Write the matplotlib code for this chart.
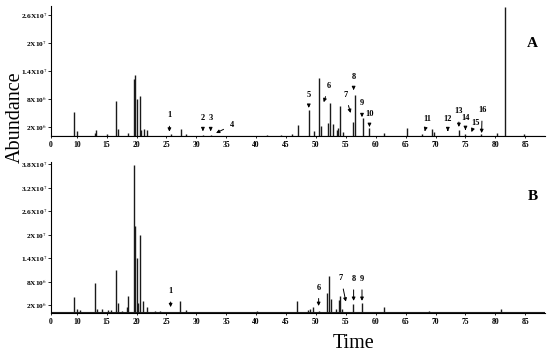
import matplotlib
matplotlib.use('Agg')
from matplotlib import pyplot as plt

plt.rcParams['font.family'] = ['Liberation Serif', 'DejaVu Serif']
plt.rcParams['mathtext.fontset'] = 'stix'

# retention time (min) and abundance (x1e6) of the peaks, chromatogram A
a_times = [9.5, 10.1, 13.0, 13.2, 15.0, 16.55, 16.9, 18.5, 19.5, 19.8, 20.05, 20.5, 20.7,
           21.2, 21.8, 25.8, 27.4, 28.3, 31.1, 32.4, 41.8, 44.2, 46.0, 46.95, 48.8, 49.6,
           50.55, 50.8, 52.0, 52.3, 52.8, 53.45, 53.7, 54.1, 54.5, 56.2, 56.45, 57.8, 58.9,
           61.4, 65.2, 67.8, 69.45, 69.7, 73.9, 75.0, 77.6, 80.3, 81.55, 84.8]
a_heights = [5.1, 1.1, 0.8, 1.3, 0.4, 7.6, 1.5, 0.6, 12.2, 13.1, 7.9, 8.7, 1.4,
             1.5, 1.3, 0.5, 1.55, 0.5, 0.3, 0.3, 0.3, 0.3, 0.5, 2.4, 5.6, 1.2,
             12.4, 2.1, 2.9, 7.1, 2.6, 1.35, 1.8, 6.5, 0.9, 3.1, 8.85, 3.85, 1.7,
             0.6, 1.7, 0.5, 1.5, 1.0, 1.35, 0.5, 0.4, 0.7, 27.6, 0.4]

# chromatogram B
b_times = [9.55, 10.1, 10.5, 13.0, 13.35, 14.2, 15.2, 15.7, 16.55, 16.95, 17.6, 18.4, 18.6,
           19.5, 19.8, 20.0, 20.2, 20.5, 21.05, 21.7, 23.05, 23.9, 27.3, 28.3, 40.2, 44.2,
           46.9, 48.6, 49.05, 49.5, 50.55, 51.8, 52.2, 52.6, 53.4, 53.8, 54.05, 54.3, 56.2,
           57.7, 61.3, 65.0, 68.9, 80.95]
b_heights = [4.0, 0.9, 0.8, 7.6, 1.1, 1.0, 0.8, 0.8, 11.1, 2.6, 0.4, 1.5, 4.4,
             37.8, 22.2, 14.0, 2.5, 19.9, 3.0, 1.6, 0.6, 0.4, 3.0, 0.7, 0.5, 0.3,
             3.1, 0.8, 1.1, 1.5, 0.5, 5.0, 9.45, 3.5, 1.0, 3.3, 4.4, 1.0, 2.3,
             2.5, 1.5, 0.3, 0.4, 1.1]

# numbered compounds: label, text position, arrow tip
a_labels = [('1', (25.5, 4.5), (25.5, 1.0)), ('2', (31.1, 3.9), (31.1, 1.1)),
            ('3', (32.4, 3.9), (32.4, 1.1)), ('4', (36.0, 2.4), (33.3, 0.7)),
            ('5', (48.8, 8.9), (48.8, 6.1)), ('6', (52.2, 10.8), (51.3, 7.3)),
            ('7', (54.9, 8.9), (55.8, 5.0)), ('8', (56.3, 12.7), (56.3, 9.9)),
            ('9', (57.7, 7.1), (57.7, 4.1)), ('10', (58.95, 4.8), (58.95, 2.0)),
            ('11', (68.7, 3.7), (68.2, 1.1)), ('12', (72.05, 3.7), (72.05, 1.1)),
            ('13', (73.9, 5.4), (73.9, 2.0)), ('14', (75.0, 3.9), (75.0, 1.35)),
            ('15', (76.6, 2.85), (76.0, 0.9)), ('16', (77.8, 5.6), (77.7, 0.7))]
b_labels = [('1', (25.7, 5.6), (25.7, 1.5)), ('6', (50.45, 6.5), (50.45, 1.8)),
            ('7', (54.2, 8.9), (55.0, 2.9)), ('8', (56.3, 8.7), (56.3, 3.1)),
            ('9', (57.7, 8.7), (57.7, 3.1))]

x_ticks = [5.7, 10, 15, 20, 25, 30, 35, 40, 45, 50, 55, 60, 65, 70, 75, 80, 85]
x_ticklabels = ['0'] + [str(t) for t in x_ticks[1:]]
y_ticks = [2, 8, 14, 20, 26, 32, 38]
y_ticklabels = [r'2X10$^{6}$', r'8X10$^{6}$', r'1.4X10$^{7}$', r'2X10$^{7}$',
                r'2.6X10$^{7}$', r'3.2X10$^{7}$', r'3.8X10$^{7}$']

fig = plt.figure(figsize=(5.5, 3.55), dpi=100)
axA = fig.add_axes([51/550, 218.7/355, 494/550, 130.7/355])
axB = fig.add_axes([51/550, 42/355, 494/550, 150.8/355])


def draw(ax, times, heights, labels, ymax, nticks, letter):
    ax.plot([5.7, 88.3], [0.15, 0.15], color='#222222', lw=0.8)
    ax.vlines(times, 0, heights, color='#1a1a1a', lw=1.0)
    ax.set_xlim(5.7, 88.3)
    ax.set_ylim(0, ymax)
    for s in ['top', 'right']:
        ax.spines[s].set_visible(False)
    ax.spines['left'].set_linewidth(0.8)
    ax.spines['bottom'].set_linewidth(0.8)
    ax.set_xticks(x_ticks)
    ax.set_xticklabels(x_ticklabels, fontsize=5.5, fontweight='bold')
    ax.set_yticks(y_ticks[:nticks])
    ax.set_yticklabels(y_ticklabels[:nticks], fontsize=5.3, fontweight='bold')
    ax.tick_params(axis='y', length=2, width=0.6, pad=1)
    ax.tick_params(axis='x', length=1.5, width=0.6, pad=2)
    for lab, txt, tip in labels:
        ax.annotate(lab, xy=tip, xytext=txt, ha='center', va='center',
                    fontsize=6, fontweight='bold',
                    arrowprops=dict(arrowstyle='-|>', color='black', lw=0.7,
                                    mutation_scale=5, shrinkA=3, shrinkB=0))
    ax.text(0.975, 0.71 if letter == 'A' else 0.77, letter, transform=ax.transAxes,
            fontsize=11, fontweight='bold', ha='center', va='center')


draw(axA, a_times, a_heights, a_labels, 28, 5, 'A')
draw(axB, b_times, b_heights, b_labels, 38.5, 7, 'B')

fig.text(15/550, 1 - 117/355, 'Abundance', rotation=90, fontsize=14.5,
         ha='center', va='center')
fig.text(354/550, 1 - 343/355, 'Time', fontsize=14.5, ha='center', va='center')

fig.savefig('out.png', dpi=100)
